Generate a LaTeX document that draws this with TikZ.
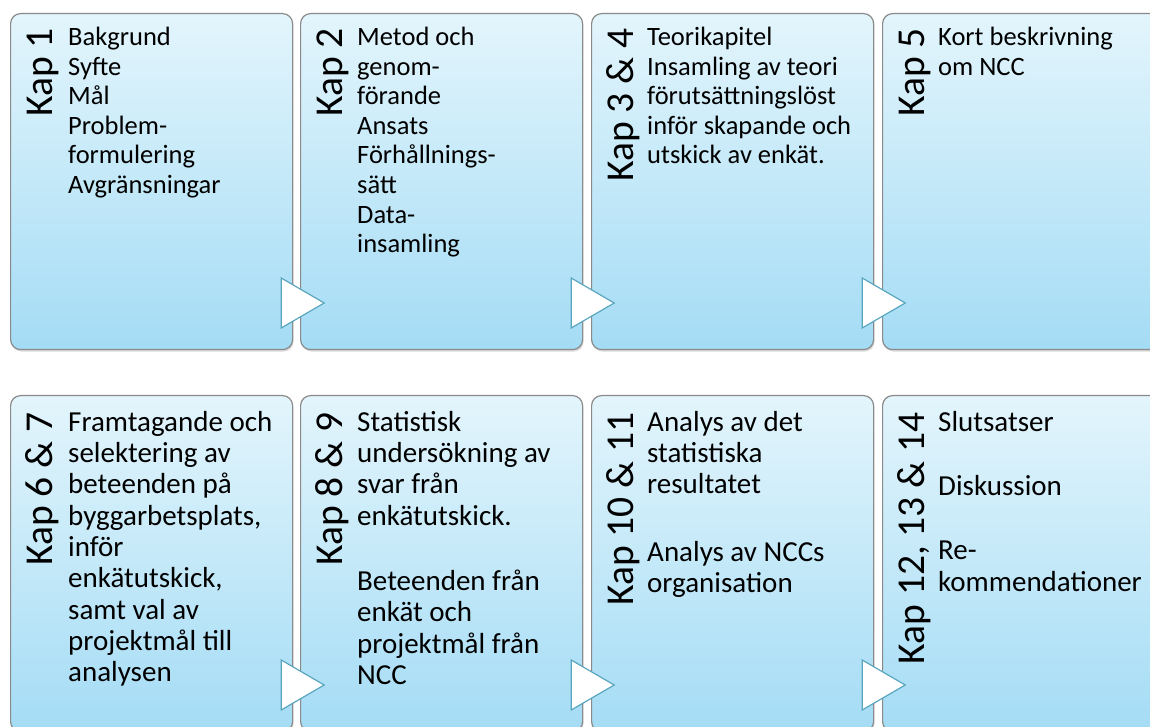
\documentclass[tikz,border=0pt]{standalone}
\usepackage{fontspec}
\setmainfont{Carlito}
\usetikzlibrary{calc,shadows}

\definecolor{boxtop}{HTML}{E3F5FC}
\definecolor{boxbot}{HTML}{A4DCF5}
\definecolor{boxline}{HTML}{8A8A8A}
\definecolor{triline}{HTML}{5BA6BF}

\tikzset{
  kapbox/.style={rectangle, rounded corners=10pt, draw=boxline, line width=1.2pt,
    top color=boxtop, bottom color=boxbot, minimum width=282pt, minimum height=336pt,
    inner sep=0pt, anchor=north west,
    drop shadow={shadow xshift=1pt, shadow yshift=-2pt, opacity=0.3}},
  kaplabel/.style={rotate=90, anchor=base east, inner sep=0pt, font=\fontsize{39.5}{41}\selectfont},
  kaptext/.style={anchor=north west, align=left, inner sep=0pt},
  rowone/.style={kaptext, font=\fontsize{26.5}{29.6}\selectfont},
  rowtwo/.style={kaptext, font=\fontsize{29}{31.3}\selectfont},
  steparrow/.style={draw=triline, line width=1.2pt, fill=white, line join=miter}
}

\begin{document}
\begin{tikzpicture}[x=1pt,y=1pt]
\useasboundingbox (0,0) rectangle (1150,726);
\clip (0,0) rectangle (1150,726);

% boxes
\foreach \n/\x/\y in {1/10/713, 2/300/713, 3/591/713, 4/882/713, 5/10/331, 6/300/331, 7/591/331, 8/882/331}
  \node[kapbox] (k\n) at (\x,\y) {};

% arrows between boxes
\foreach \a in {1,2,3,5,6,7}
  \draw[steparrow] ([shift={(-12,-265)}]k\a.north east) -- ++(43,-25) -- ++(-43,-25) -- cycle;

% chapter labels
\foreach \n/\l/\dy in {1/Kap 1/15, 2/Kap 2/15, 3/Kap 3 \& 4/15, 4/Kap 5/15,
    5/Kap 6 \& 7/17, 6/Kap 8 \& 9/17, 7/Kap 10 \& 11/17, 8/{Kap 12, 13 \& 14}/17}
  \node[kaplabel] (l\n) at ([shift={(42,-\dy)}]k\n.north west) {\l};

% contents
\node[rowone] (t1) at ([shift={(58,-14)}]k1.north west)
  {Bakgrund\\Syfte\\Mål\\Problem-\\formulering\\Avgränsningar};
\node[rowone] (t2) at ([shift={(57,-14)}]k2.north west)
  {Metod och\\genom-\\förande\\Ansats\\Förhållnings-\\sätt\\Data-\\insamling};
\node[rowone] (t3) at ([shift={(56,-14)}]k3.north west)
  {Teorikapitel\\Insamling av teori\\förutsättningslöst\\inför skapande och\\utskick av enkät.};
\node[rowone] (t4) at ([shift={(56,-14)}]k4.north west)
  {Kort beskrivning\\om NCC};
\node[rowtwo] (t5) at ([shift={(58,-16)}]k5.north west)
  {Framtagande och\\selektering av\\beteenden på\\byggarbetsplats,\\inför\\enkätutskick,\\samt val av\\projektmål till\\analysen};
\node[rowtwo] (t6) at ([shift={(57,-16)}]k6.north west)
  {Statistisk\\undersökning av\\svar från\\enkätutskick.\\[34pt]Beteenden från\\enkät och\\projektmål från\\NCC};
\node[rowtwo] (t7) at ([shift={(56,-16)}]k7.north west)
  {Analys av det\\statistiska\\resultatet\\[36pt]Analys av NCCs\\organisation};
\node[rowtwo] (t8) at ([shift={(56,-16)}]k8.north west)
  {Slutsatser\\[33pt]Diskussion\\[33pt]Re-\\kommendationer};
\end{tikzpicture}
\end{document}
